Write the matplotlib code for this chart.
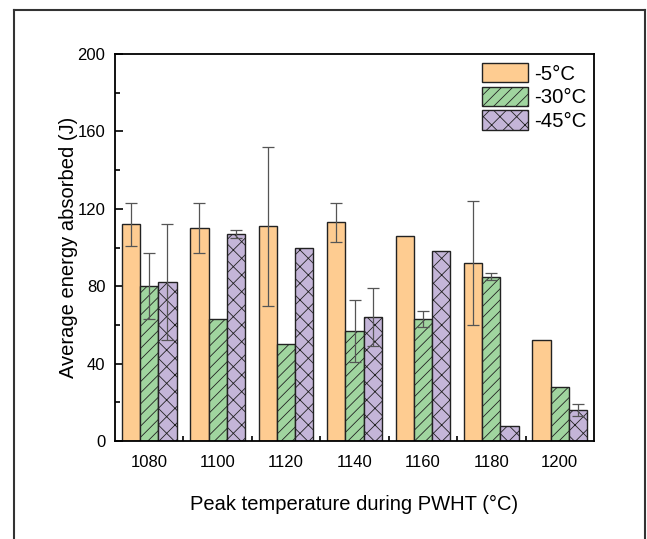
import numpy as np
import matplotlib
matplotlib.use("Agg")
import matplotlib.pyplot as plt
from matplotlib.lines import Line2D
from matplotlib.ticker import MultipleLocator, FixedLocator

plt.rcParams['font.family'] = ['Liberation Sans', 'DejaVu Sans']
plt.rcParams['hatch.linewidth'] = 0.6
plt.rcParams['hatch.color'] = '#333333'

categories = ['1080', '1100', '1120', '1140', '1160', '1180', '1200']
series_names = ['-5°C', '-30°C', '-45°C']
vals_m5 = [112, 110, 111, 113, 106, 92, 52]
vals_m30 = [80, 63, 50, 57, 63, 85, 28]
vals_m45 = [82, 107, 100, 64, 98, 8, 16]
err_m5 = [11, 13, 41, 10, np.nan, 32, np.nan]
err_m30 = [17, np.nan, np.nan, 16, 4, 2, np.nan]
err_m45 = [30, 2, np.nan, 15, np.nan, np.nan, 3]

colors = ['#FECC91', '#A0D59F', '#C4B5D8']
hatches = ['', '///', 'xx']

fig = plt.figure(figsize=(6.47, 5.39), dpi=100)
ax = fig.add_axes([115/647, 1-441/539, 479/647, 387/539])

x = np.arange(len(categories))
w = 0.8/3
data = [vals_m5, vals_m30, vals_m45]
errs = [err_m5, err_m30, err_m45]
for i, (v, e) in enumerate(zip(data, errs)):
    pos = x + (i-1)*w
    ax.bar(pos, v, width=w, color=colors[i], edgecolor='#222222', linewidth=1.0,
           hatch=hatches[i], label=series_names[i], zorder=2)
    e = np.array(e, dtype=float)
    m = ~np.isnan(e)
    ax.errorbar(pos[m], np.array(v)[m], yerr=e[m], fmt='none', ecolor='#555555',
                elinewidth=0.9, capsize=4, capthick=0.9, zorder=3)

ax.set_xlim(-0.5, len(categories)-0.5)
ax.set_ylim(0, 200)
ax.set_xticks(x)
ax.set_xticklabels(categories)
ax.xaxis.set_minor_locator(FixedLocator(np.arange(0.5, len(categories)-1, 1.0)))
ax.yaxis.set_major_locator(MultipleLocator(40))
ax.yaxis.set_minor_locator(MultipleLocator(20))
ax.tick_params(axis='both', which='major', direction='in', length=6, width=1.2,
               labelsize=12)
ax.tick_params(axis='x', which='major', pad=10)
ax.tick_params(axis='y', which='major', pad=7)
ax.tick_params(axis='both', which='minor', direction='in', length=3.5, width=1.2)
for s in ax.spines.values():
    s.set_linewidth(1.3)

ax.set_xlabel('Peak temperature during PWHT (°C)', fontsize=14.5, labelpad=18)
ax.set_ylabel('Average energy absorbed (J)', fontsize=14.5, labelpad=-0.5)

ax.legend(loc='upper left', bbox_to_anchor=(0.766, 0.977), frameon=False,
          fontsize=14.7, handlelength=2.25, handleheight=1.08, labelspacing=0.15,
          handletextpad=0.3, borderpad=0, borderaxespad=0)

# outer frame
fc = '#333333'
L, R, T = 13.5/647, 644.5/647, 1-9.5/539
fig.add_artist(Line2D([L, L], [-0.01, T], transform=fig.transFigure, color=fc, lw=1.5))
fig.add_artist(Line2D([R, R], [-0.01, T], transform=fig.transFigure, color=fc, lw=1.5))
fig.add_artist(Line2D([L, R], [T, T], transform=fig.transFigure, color=fc, lw=1.5))

fig.savefig('out.png', dpi=100)
